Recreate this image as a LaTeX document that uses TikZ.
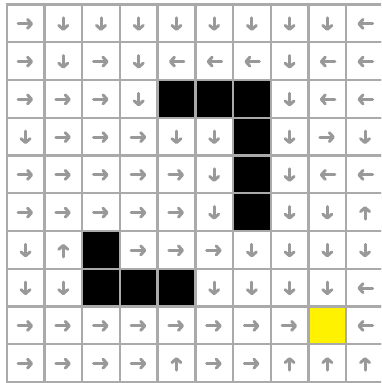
\documentclass[tikz,border=0pt]{standalone}
\usetikzlibrary{arrows.meta}
\definecolor{gridgray}{HTML}{AAAAAA}
\definecolor{arrgray}{HTML}{999999}
\begin{document}
\begin{tikzpicture}[x=1pt,y=-1pt,
  cell/.style={draw=gridgray,line width=2.4pt,minimum size=37.72pt,inner sep=0pt,outer sep=0pt,rectangle},
  cR/.style={cell,fill=white}, cD/.style={cell,fill=white},
  cL/.style={cell,fill=white}, cU/.style={cell,fill=white},
  cK/.style={cell,fill=black}, cY/.style={cell,fill=yellow},
  arrowline/.style={draw=arrgray,line width=3pt,-{Straight Barb[length=4pt,width=9pt,line cap=round,line join=round]},line cap=round},
  arR/.pic={\draw[arrowline] (-7.5,0.5) -- (7.5,0.5);},
  arL/.pic={\draw[arrowline] (7.5,0.5) -- (-7.5,0.5);},
  arD/.pic={\draw[arrowline] (0,-5.5) -- (0,7.5);},
  arU/.pic={\draw[arrowline] (0,7) -- (0,-6);},
  arK/.pic={},
  arY/.pic={}]
\useasboundingbox (0,0) rectangle (381,383);
\clip (0,0) rectangle (381,383);
\foreach \rowlist [count=\j from 0] in {
  {R,D,D,D,D,D,D,D,D,L},
  {R,D,R,D,L,L,L,D,L,L},
  {R,R,R,D,K,K,K,D,L,L},
  {D,R,R,R,D,D,K,D,R,D},
  {R,R,R,R,R,D,K,D,L,L},
  {R,R,R,R,R,D,K,D,D,U},
  {D,U,K,R,R,R,D,D,D,D},
  {D,D,K,K,K,D,D,D,D,L},
  {R,R,R,R,R,R,R,R,Y,L},
  {R,R,R,R,U,R,R,U,U,U}}{
  \foreach \d [count=\i from 0] in \rowlist {
    \node[c\d] (c\j-\i) at ({6.7+37.72*\i+18.86},{4.5+37.75*\j+18.875}) {};
    \pic at (c\j-\i) {ar\d};
  }
}
\end{tikzpicture}
\end{document}
